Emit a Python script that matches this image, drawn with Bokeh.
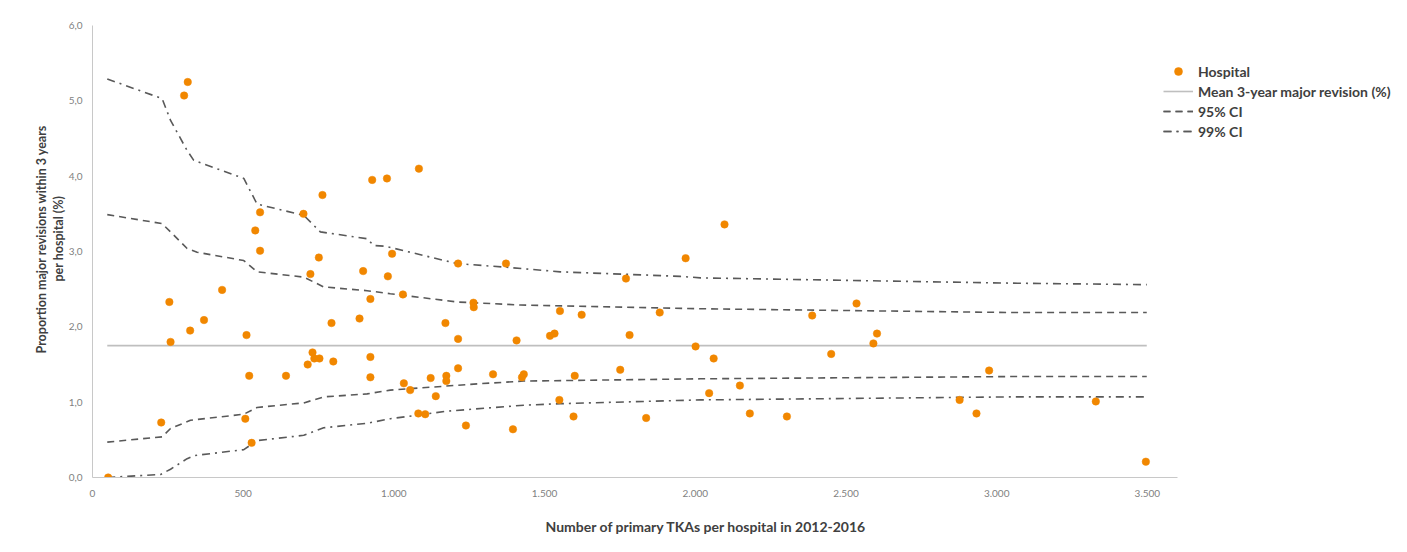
from bokeh.plotting import figure
from bokeh.models import Range1d, FixedTicker, Legend, LegendItem, Title
from bokeh.embed import file_html
from bokeh.resources import INLINE

# ---- data ----
hosp_n = [52, 228, 255, 259, 304, 316, 324, 370, 430, 507, 511, 520, 528, 540, 556, 556,
          642, 700, 714, 723, 730, 736, 751, 753, 763, 793, 799, 886, 898, 922, 922, 922,
          928, 977, 980, 994, 1030, 1033, 1054, 1081, 1083, 1104, 1122, 1139, 1171, 1174,
          1174, 1213, 1213, 1213, 1239, 1264, 1265, 1329, 1372, 1395, 1407, 1425, 1431,
          1518, 1533, 1549, 1551, 1596, 1600, 1623, 1751, 1770, 1782, 1837, 1882, 1968,
          2001, 2046, 2061, 2097, 2148, 2181, 2304, 2388, 2451, 2535, 2591, 2603, 2877,
          2933, 2975, 3329, 3495]
hosp_pct = [0.00, 0.73, 2.33, 1.80, 5.07, 5.25, 1.95, 2.09, 2.49, 0.78, 1.89, 1.35, 0.46, 3.28, 3.52, 3.01,
            1.35, 3.50, 1.50, 2.70, 1.66, 1.58, 2.92, 1.58, 3.75, 2.05, 1.54, 2.11, 2.74, 2.37, 1.60, 1.33,
            3.95, 3.97, 2.67, 2.97, 2.43, 1.25, 1.16, 0.85, 4.10, 0.84, 1.32, 1.08, 2.05, 1.35,
            1.28, 2.84, 1.84, 1.45, 0.69, 2.32, 2.26, 1.37, 2.84, 0.64, 1.82, 1.33, 1.37,
            1.88, 1.91, 1.03, 2.21, 0.81, 1.35, 2.16, 1.43, 2.64, 1.89, 0.79, 2.19, 2.91,
            1.74, 1.12, 1.58, 3.36, 1.22, 0.85, 0.81, 2.15, 1.64, 2.31, 1.78, 1.91, 1.03,
            0.85, 1.42, 1.01, 0.21]

mean_n = [49, 3498]
mean_pct = [1.75, 1.75]

up99_n = [49, 231, 259, 314, 336, 502, 546, 701, 756, 911, 933, 972, 1209, 1375, 1552, 1950, 2017, 3045, 3498]
up99_pct = [5.29, 5.03, 4.74, 4.34, 4.21, 3.97, 3.63, 3.48, 3.26, 3.17, 3.08, 3.07, 2.84, 2.79, 2.73, 2.67, 2.65, 2.58, 2.56]

up95_n = [49, 231, 259, 314, 347, 502, 546, 701, 767, 911, 988, 1209, 1420, 2017, 3045, 3498]
up95_pct = [3.49, 3.37, 3.26, 3.04, 2.99, 2.88, 2.73, 2.66, 2.53, 2.48, 2.44, 2.33, 2.29, 2.24, 2.19, 2.19]

lo95_n = [49, 231, 259, 325, 502, 546, 701, 767, 911, 988, 1265, 1431, 2017, 3045, 3498]
lo95_pct = [0.47, 0.54, 0.65, 0.76, 0.84, 0.93, 0.99, 1.07, 1.11, 1.16, 1.24, 1.28, 1.31, 1.34, 1.34]

lo99_n = [49, 226, 259, 314, 336, 502, 546, 701, 767, 911, 988, 1176, 1431, 1552, 2017, 3045, 3498]
lo99_pct = [0.00, 0.04, 0.11, 0.25, 0.29, 0.37, 0.49, 0.56, 0.66, 0.72, 0.78, 0.88, 0.96, 0.98, 1.03, 1.07, 1.07]

x_ticks = [0, 500, 1000, 1500, 2000, 2500, 3000, 3500]
x_tick_labels = ["0", "500", "1.000", "1.500", "2.000", "2.500", "3.000", "3.500"]
y_ticks = [0, 1, 2, 3, 4, 5, 6]
y_tick_labels = ["0,0", "1,0", "2,0", "3,0", "4,0", "5,0", "6,0"]

x_title = "Number of primary TKAs per hospital in 2012-2016"
y_title_lines = ["Proportion major revisions within 3 years", "per hospital (%)"]

FONT = "Lato"
ORANGE = "#F18700"
DARK = "#595959"
TITLE_COLOR = "#404040"

W, H = 1400, 550
LEFT, TOP, BOTTOM_Y = 92, 25, 477
AXIS_MAX = 3600
AXIS_RIGHT_PX = 1177
frame_w = W - LEFT
x_end = AXIS_MAX * frame_w / (AXIS_RIGHT_PX - LEFT)

p = figure(width=W, height=H, output_backend="svg", toolbar_location=None,
           x_range=Range1d(0, x_end), y_range=Range1d(0, 6),
           min_border_left=LEFT, min_border_right=0, min_border_top=TOP,
           min_border_bottom=H - BOTTOM_Y)
p.outline_line_color = None
p.xgrid.visible = False
p.ygrid.visible = False

for ax in (p.xaxis[0], p.yaxis[0]):
    ax.axis_line_color = "#c8c8c8"
    ax.axis_line_width = 1
    ax.major_tick_line_color = None
    ax.minor_tick_line_color = None
    ax.major_tick_out = 0
    ax.major_tick_in = 0
    ax.minor_tick_out = 0
    ax.major_label_text_font = FONT
    ax.major_label_text_font_size = "10px"
    ax.major_label_text_color = "#7f7f7f"

p.xaxis.bounds = (0, AXIS_MAX)
p.xaxis.ticker = FixedTicker(ticks=x_ticks)
p.xaxis.major_label_overrides = {t: l for t, l in zip(x_ticks, x_tick_labels)}
p.xaxis.major_label_standoff = 12
p.yaxis.ticker = FixedTicker(ticks=y_ticks)
p.yaxis.major_label_overrides = {t: l for t, l in zip(y_ticks, y_tick_labels)}
p.yaxis.major_label_standoff = 10

# axis titles as side titles (placed where they sit in the reference)
p.add_layout(Title(text=x_title, align="left", offset=453, standoff=32,
                   text_font=FONT, text_font_size="14px", text_font_style="bold",
                   text_color=TITLE_COLOR), "below")
p.add_layout(Title(text=y_title_lines[1], align="left", offset=196, standoff=0,
                   text_font=FONT, text_font_size="12.5px", text_font_style="bold",
                   text_color=TITLE_COLOR), "left")
p.add_layout(Title(text=y_title_lines[0], align="left", offset=124, standoff=0,
                   text_font=FONT, text_font_size="12.5px", text_font_style="bold",
                   text_color=TITLE_COLOR), "left")

r_mean = p.line(mean_n, mean_pct, line_color="#bfbfbf", line_width=1.6)
r_u95 = p.line(up95_n, up95_pct, line_color=DARK, line_width=1.6, line_dash="7 5")
r_l95 = p.line(lo95_n, lo95_pct, line_color=DARK, line_width=1.6, line_dash="7 5")
r_u99 = p.line(up99_n, up99_pct, line_color=DARK, line_width=1.6, line_dash="8 5 2 5")
r_l99 = p.line(lo99_n, lo99_pct, line_color=DARK, line_width=1.6, line_dash="8 5 2 5")
r_h = p.scatter(hosp_n, hosp_pct, size=7.5, fill_color=ORANGE, line_color=ORANGE, line_width=0.5)

legend = Legend(items=[
    LegendItem(label="Hospital", renderers=[r_h]),
    LegendItem(label="Mean 3-year major revision (%)", renderers=[r_mean]),
    LegendItem(label="95% CI", renderers=[r_u95, r_l95]),
    LegendItem(label="99% CI", renderers=[r_u99, r_l99]),
], location=(1071, 336))
legend.padding = 0
legend.margin = 0
legend.spacing = 0
legend.border_line_color = None
legend.background_fill_alpha = 0
legend.label_height = 20
legend.glyph_height = 20
legend.glyph_width = 30
legend.label_standoff = 5
legend.label_text_font = FONT
legend.label_text_font_size = "14px"
legend.label_text_font_style = "bold"
legend.label_text_color = TITLE_COLOR
p.add_layout(legend, "center")

open("out.html", "w").write(file_html(p, INLINE))
